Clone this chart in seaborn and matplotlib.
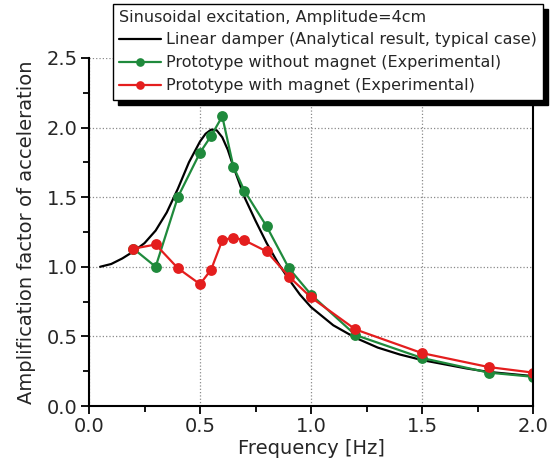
import matplotlib
matplotlib.use("Agg")
import matplotlib.pyplot as plt
import pandas as pd
import seaborn as sns
from matplotlib.ticker import MultipleLocator

# Analytical curve
freq_lin = [0.05, 0.1, 0.15, 0.2, 0.25, 0.3, 0.35, 0.4, 0.45, 0.5, 0.525, 0.55, 0.575,
            0.6, 0.625, 0.65, 0.7, 0.75, 0.8, 0.85, 0.9, 0.95, 1.0, 1.1, 1.2, 1.3,
            1.4, 1.5, 1.6, 1.7, 1.8, 1.9, 2.0]
amp_lin = [1.00, 1.02, 1.06, 1.11, 1.17, 1.26, 1.39, 1.56, 1.75, 1.90, 1.955, 1.985, 1.98,
           1.93, 1.84, 1.72, 1.50, 1.33, 1.17, 1.03, 0.91, 0.80, 0.71, 0.58, 0.49, 0.42,
           0.37, 0.33, 0.30, 0.27, 0.245, 0.23, 0.215]

# Experimental points
freq_exp = [0.2, 0.3, 0.4, 0.5, 0.55, 0.6, 0.65, 0.7, 0.8, 0.9, 1.0, 1.2, 1.5, 1.8, 2.0]
amp_no_mag = [1.13, 1.00, 1.50, 1.82, 1.94, 2.08, 1.72, 1.545, 1.29, 0.99, 0.80,
              0.51, 0.345, 0.24, 0.21]
amp_mag = [1.13, 1.16, 0.99, 0.875, 0.98, 1.19, 1.21, 1.19, 1.11, 0.93, 0.78,
           0.55, 0.38, 0.28, 0.24]

lbl_lin = "Linear damper (Analytical result, typical case)"
lbl_no = "Prototype without magnet (Experimental)"
lbl_mag = "Prototype with magnet (Experimental)"

df_lin = pd.DataFrame({"f": freq_lin, "a": amp_lin})
df_exp = pd.DataFrame({"f": freq_exp, "no": amp_no_mag, "mag": amp_mag})

sns.set_style("ticks")
plt.rcParams["font.family"] = ["DejaVu Sans"]

fig, ax = plt.subplots(figsize=(5.53, 4.63), dpi=100)
fig.subplots_adjust(left=0.161, right=0.964, bottom=0.123, top=0.875)

green = "#1f8a3c"
red = "#e41e1e"

sns.lineplot(data=df_lin, x="f", y="a", ax=ax, color="black", linewidth=1.6, label=lbl_lin)
sns.lineplot(data=df_exp, x="f", y="no", ax=ax, color=green, linewidth=1.6,
             marker="o", markersize=7.8, markeredgewidth=0, label=lbl_no)
sns.lineplot(data=df_exp, x="f", y="mag", ax=ax, color=red, linewidth=1.6,
             marker="o", markersize=7.8, markeredgewidth=0, label=lbl_mag)

ax.set_xlim(0, 2.0)
ax.set_ylim(0, 2.5)
ax.xaxis.set_major_locator(MultipleLocator(0.5))
ax.xaxis.set_minor_locator(MultipleLocator(0.25))
ax.yaxis.set_major_locator(MultipleLocator(0.5))
ax.yaxis.set_minor_locator(MultipleLocator(0.25))
ax.set_xticklabels([f"{v:.1f}" for v in ax.get_xticks()])
ax.set_yticklabels([f"{v:.1f}" for v in ax.get_yticks()])
ax.tick_params(which="major", direction="out", length=6, width=1.3, labelsize=14,
               color="black", pad=2)
ax.tick_params(which="minor", direction="out", length=4, width=1.3, color="black")
ax.grid(True, which="major", linestyle=":", color="#8a8a8a", linewidth=0.9)

for side in ["left", "bottom", "right"]:
    ax.spines[side].set_linewidth(1.5)
    ax.spines[side].set_color("black")
ax.spines["top"].set_visible(False)

ax.set_xlabel("Frequency [Hz]", fontsize=14, labelpad=2)
ax.set_ylabel("Amplification factor of acceleration", fontsize=14, labelpad=8)

leg = ax.legend(title="Sinusoidal excitation, Amplitude=4cm", loc="upper right",
                bbox_to_anchor=(1.022, 1.155), borderaxespad=0, fontsize=11.5,
                title_fontsize=11.5, alignment="left", frameon=True, fancybox=False,
                handlelength=2.6, handletextpad=0.3, labelspacing=0.5,
                borderpad=0.4, markerscale=0.8,
                shadow={"color": "black", "alpha": 1, "ox": 4, "oy": -4})
leg.get_frame().set_edgecolor("black")
leg.get_frame().set_linewidth(1.0)
leg.get_frame().set_alpha(1)
leg._legend_box.sep = 5

fig.savefig("out.png", dpi=100)
